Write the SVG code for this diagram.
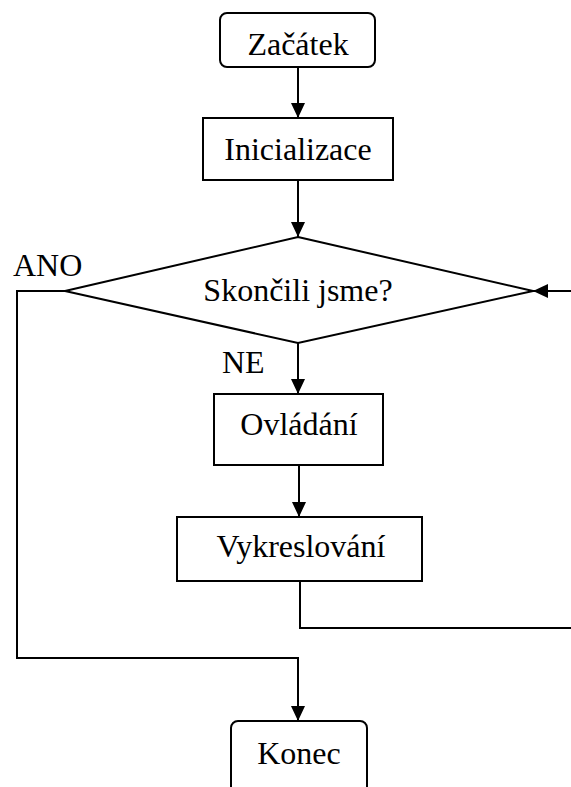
<svg xmlns="http://www.w3.org/2000/svg" width="571" height="787" viewBox="0 0 571 787">
<style>
.box{fill:#fff;stroke:#000;stroke-width:2}
.ln{fill:none;stroke:#000;stroke-width:2}
.t{font-family:"Liberation Serif","Times New Roman",serif;font-size:32px;fill:#000;text-anchor:middle}
.l{font-family:"Liberation Serif","Times New Roman",serif;font-size:32px;fill:#000}
</style>
<defs>
<marker id="ah" markerWidth="15" markerHeight="14" refX="15" refY="7" orient="auto" markerUnits="userSpaceOnUse">
<path d="M0,0 L15,7 L0,14 Z" fill="#000"/>
</marker>
</defs>
<g id="connectors">
<line class="ln" x1="298" y1="67" x2="298" y2="118" marker-end="url(#ah)"/>
<line class="ln" x1="298" y1="180" x2="298" y2="237" marker-end="url(#ah)"/>
<line class="ln" x1="298" y1="343" x2="298" y2="394" marker-end="url(#ah)"/>
<line class="ln" x1="299" y1="465" x2="299" y2="517" marker-end="url(#ah)"/>
<polyline class="ln" points="300,581 300,628 573,628 573,291 533,291" marker-end="url(#ah)"/>
<polyline class="ln" points="65,291 17,291 17,658 298,658 298,721" marker-end="url(#ah)"/>
</g>
<g id="zacatek">
<rect class="box" x="220" y="13" width="155" height="54" rx="7"/>
<text class="t" x="298" y="55">Začátek</text>
</g>
<g id="inicializace">
<rect class="box" x="203" y="118" width="190" height="62"/>
<text class="t" x="298" y="160">Inicializace</text>
</g>
<g id="skoncili">
<polygon class="box" points="298,237 533,291 298,343 65,291"/>
<text class="t" x="298" y="301">Skončili jsme?</text>
</g>
<g id="ovladani">
<rect class="box" x="214" y="394" width="169" height="71"/>
<text class="t" x="299" y="435">Ovládání</text>
</g>
<g id="vykreslovani">
<rect class="box" x="177" y="517" width="245" height="64"/>
<text class="t" x="301" y="557">Vykreslování</text>
</g>
<g id="konec">
<rect class="box" x="231" y="721" width="136" height="80" rx="7"/>
<text class="t" x="299" y="764">Konec</text>
</g>
<g id="labels">
<text class="l" x="13" y="276">ANO</text>
<text class="l" x="222" y="373">NE</text>
</g>
</svg>
